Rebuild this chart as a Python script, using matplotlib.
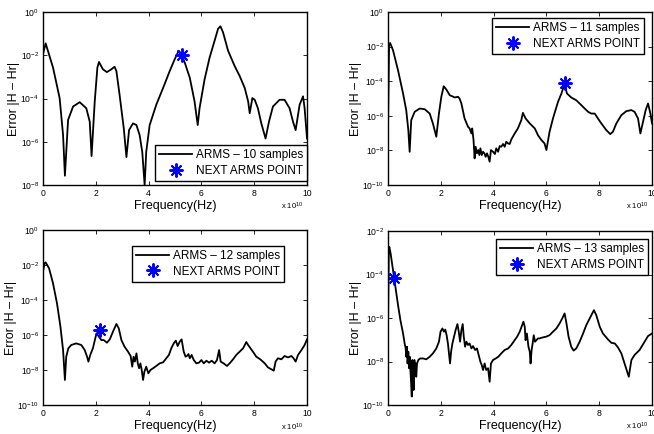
import numpy as np
import matplotlib
matplotlib.use("Agg")
import matplotlib.pyplot as plt

plt.rcParams['font.family'] = ['Liberation Sans', 'DejaVu Sans']
plt.rcParams['mathtext.fontset'] = 'custom'
plt.rcParams['mathtext.rm'] = 'Liberation Sans'
plt.rcParams['mathtext.it'] = 'Liberation Sans:italic'

# ---- data (frequency in units of 1e10 Hz, error as log10 exponent) ----
f10 = [0.00, 0.10, 0.38, 0.63, 0.76, 0.83, 0.95, 1.14, 1.39, 1.64, 1.77, 1.84, 1.96, 2.06, 2.12, 2.27,
       2.42, 2.59, 2.71, 2.78, 2.90, 3.06, 3.16, 3.26, 3.41, 3.54, 3.66, 3.76, 3.85, 3.91, 4.04, 4.29,
       4.55, 4.80, 4.99, 5.14, 5.24, 5.37, 5.56, 5.74, 5.86, 5.93, 6.12, 6.31, 6.50, 6.63, 6.72, 6.82,
       7.01, 7.26, 7.45, 7.64, 7.77, 7.83, 7.93, 8.02, 8.14, 8.27, 8.43, 8.56, 8.71, 8.96, 9.15, 9.34,
       9.47, 9.57, 9.72, 9.85, 9.91, 10.0]
e10 = [-1.95, -1.45, -2.57, -3.98, -5.69, -7.57, -4.99, -4.37, -4.17, -4.45, -5.07, -6.66, -4.13, -2.57,
       -2.31, -2.65, -2.78, -2.65, -2.53, -2.73, -3.82, -5.38, -6.71, -5.46, -5.15, -5.23, -5.69, -6.47,
       -8.00, -6.47, -5.23, -4.29, -3.51, -2.73, -2.18, -1.79, -1.95, -2.34, -3.04, -4.13, -5.23, -4.45,
       -3.12, -2.11, -1.33, -0.78, -0.66, -0.94, -1.79, -2.50, -2.96, -3.51, -4.13, -4.68, -3.98, -4.06,
       -4.45, -5.15, -5.85, -5.07, -4.37, -4.06, -4.06, -4.45, -5.07, -5.46, -4.29, -3.90, -4.45, -5.85]
star10 = (5.27, -2.0)

f11 = [0.00, 0.04, 0.08, 0.19, 0.38, 0.57, 0.69, 0.77, 0.82, 0.88, 1.01, 1.20, 1.39, 1.58, 1.70, 1.83,
       1.93, 2.02, 2.11, 2.21, 2.34, 2.53, 2.65, 2.71, 2.78, 2.90, 3.03, 3.09, 3.16, 3.19, 3.24, 3.28,
       3.32, 3.37, 3.42, 3.46, 3.50, 3.55, 3.60, 3.65, 3.70, 3.75, 3.80, 3.85, 3.90, 3.98, 4.05, 4.10,
       4.17, 4.23, 4.29, 4.36, 4.42, 4.48, 4.55, 4.61, 4.67, 4.80, 4.92, 5.05, 5.11, 5.21, 5.37, 5.56,
       5.68, 5.81, 5.93, 6.00, 6.12, 6.25, 6.44, 6.57, 6.63, 6.69, 6.78, 6.94, 7.13, 7.32, 7.45, 7.58,
       7.70, 7.83, 7.95, 8.08, 8.27, 8.42, 8.52, 8.65, 8.84, 9.03, 9.22, 9.34, 9.47, 9.56, 9.66, 9.76,
       9.85, 9.94, 10.0]
e11 = [-6.92, -1.92, -1.79, -2.21, -3.37, -4.71, -5.67, -6.83, -8.08, -6.25, -5.77, -5.58, -5.62, -5.87,
       -6.44, -7.21, -5.87, -4.90, -4.29, -4.48, -4.81, -4.94, -4.90, -5.00, -5.29, -6.15, -6.63, -6.73,
       -7.02, -6.73, -7.40, -8.46, -7.79, -8.17, -7.98, -8.27, -7.88, -8.27, -8.08, -8.17, -8.37, -8.17,
       -8.37, -8.65, -7.98, -8.08, -8.21, -7.88, -8.08, -7.75, -7.79, -7.63, -7.79, -7.50, -7.60, -7.63,
       -7.37, -7.02, -6.73, -6.25, -5.83, -6.15, -6.44, -6.73, -7.12, -7.40, -7.60, -7.98, -6.92, -6.15,
       -5.19, -4.71, -4.42, -4.23, -4.71, -4.94, -5.10, -5.38, -5.58, -5.77, -5.87, -5.87, -6.15, -6.44,
       -6.83, -7.06, -6.92, -6.44, -5.96, -5.73, -5.67, -5.77, -6.15, -7.02, -6.35, -5.67, -5.29, -5.87,
       -6.44]
star11 = (6.69, -4.1)

f12 = [0.00, 0.06, 0.10, 0.23, 0.38, 0.53, 0.66, 0.76, 0.83, 0.88, 0.96, 1.07, 1.26, 1.45, 1.58, 1.67,
       1.72, 1.79, 1.89, 1.98, 2.03, 2.12, 2.21, 2.30, 2.42, 2.53, 2.65, 2.78, 2.87, 2.97, 3.09, 3.22,
       3.32, 3.38, 3.43, 3.48, 3.54, 3.59, 3.64, 3.69, 3.74, 3.79, 3.84, 3.91, 3.99, 4.07, 4.17, 4.29,
       4.42, 4.55, 4.67, 4.77, 4.86, 4.95, 5.03, 5.10, 5.18, 5.25, 5.33, 5.40, 5.45, 5.51, 5.56, 5.63,
       5.71, 5.81, 5.91, 6.00, 6.09, 6.19, 6.29, 6.39, 6.50, 6.59, 6.67, 6.73, 6.84, 6.97, 7.07, 7.20,
       7.32, 7.45, 7.58, 7.70, 7.77, 7.86, 7.95, 8.08, 8.23, 8.40, 8.52, 8.65, 8.74, 8.81, 8.90, 9.03,
       9.15, 9.28, 9.41, 9.49, 9.57, 9.66, 9.79, 9.91, 10.0]
e12 = [-2.38, -1.90, -1.85, -2.19, -3.05, -4.19, -5.52, -6.86, -8.57, -7.24, -6.76, -6.57, -6.48, -6.57,
       -6.86, -7.24, -7.52, -7.14, -6.76, -6.19, -5.90, -6.10, -6.29, -6.29, -6.44, -6.25, -5.81, -5.37,
       -5.62, -6.29, -6.67, -6.95, -7.20, -7.81, -7.24, -7.52, -7.05, -7.62, -7.90, -7.62, -8.00, -8.57,
       -8.10, -7.81, -8.19, -8.00, -7.90, -7.77, -7.62, -7.56, -7.33, -7.14, -6.76, -6.48, -6.32, -6.63,
       -6.38, -6.25, -6.95, -7.24, -7.20, -7.09, -7.33, -7.14, -7.43, -7.62, -7.58, -7.43, -7.62, -7.47,
       -7.58, -7.47, -7.62, -7.43, -6.86, -7.52, -7.62, -7.77, -7.62, -7.39, -7.14, -6.95, -6.76, -6.40,
       -6.57, -6.76, -6.95, -7.24, -7.39, -7.62, -7.85, -7.96, -8.04, -7.52, -7.33, -7.39, -7.20, -7.28,
       -7.20, -7.33, -7.52, -7.14, -6.86, -6.57, -6.25]
star12 = (2.15, -5.71)

f13 = [0.00, 0.03, 0.05, 0.10, 0.19, 0.28, 0.38, 0.47, 0.57, 0.63, 0.67, 0.69, 0.72, 0.74, 0.77, 0.80,
       0.82, 0.85, 0.87, 0.90, 0.92, 0.95, 0.97, 1.00, 1.02, 1.05, 1.07, 1.10, 1.15, 1.22, 1.33, 1.45,
       1.58, 1.70, 1.83, 1.93, 1.99, 2.06, 2.12, 2.17, 2.22, 2.27, 2.31, 2.35, 2.39, 2.44, 2.50, 2.56,
       2.63, 2.68, 2.73, 2.78, 2.83, 2.87, 2.92, 2.97, 3.03, 3.09, 3.16, 3.22, 3.30, 3.37, 3.45, 3.50,
       3.55, 3.60, 3.66, 3.72, 3.79, 3.85, 3.90, 3.98, 4.08, 4.18, 4.29, 4.42, 4.55, 4.67, 4.80, 4.89,
       4.99, 5.06, 5.13, 5.18, 5.21, 5.26, 5.32, 5.37, 5.40, 5.44, 5.48, 5.52, 5.57, 5.62, 5.68, 5.74,
       5.87, 5.99, 6.12, 6.25, 6.38, 6.50, 6.60, 6.69, 6.76, 6.84, 6.94, 7.03, 7.13, 7.26, 7.39, 7.51,
       7.64, 7.74, 7.80, 7.89, 8.02, 8.14, 8.33, 8.46, 8.59, 8.71, 8.84, 8.96, 9.12, 9.22, 9.34, 9.53,
       9.72, 9.85, 10.0]
e13 = [-6.71, -2.89, -2.73, -3.04, -3.80, -4.57, -5.41, -6.10, -6.71, -7.17, -7.40, -7.78, -7.32, -8.09,
       -7.55, -8.31, -7.78, -8.39, -8.85, -9.61, -7.93, -8.54, -9.31, -7.93, -8.54, -8.09, -8.70, -8.09,
       -7.93, -7.86, -7.86, -7.90, -7.78, -7.63, -7.40, -7.09, -6.63, -6.48, -6.63, -6.53, -6.79, -7.17,
       -7.63, -8.09, -7.55, -7.17, -6.86, -6.56, -6.28, -6.63, -7.09, -6.56, -6.28, -6.86, -7.32, -7.09,
       -7.24, -7.17, -7.40, -7.29, -7.47, -7.40, -7.78, -8.01, -8.16, -8.39, -8.09, -8.39, -8.31, -8.93,
       -8.09, -7.93, -7.86, -7.78, -7.63, -7.47, -7.40, -7.24, -7.02, -6.86, -6.63, -6.40, -6.17, -6.40,
       -7.02, -6.71, -7.32, -7.55, -8.09, -7.47, -7.17, -6.79, -7.09, -7.02, -6.94, -6.94, -6.89, -6.86,
       -6.79, -6.63, -6.48, -6.25, -6.02, -5.79, -6.25, -6.86, -7.32, -7.50, -7.40, -7.09, -6.71, -6.33,
       -6.02, -5.79, -5.64, -5.87, -6.40, -6.71, -6.98, -7.14, -7.17, -7.35, -7.63, -8.09, -8.70, -7.93,
       -7.70, -7.47, -7.09, -6.83, -6.71]
star13 = (0.23, -4.16)

labels = ["ARMS \u2013 10 samples", "ARMS \u2013 11 samples", "ARMS \u2013 12 samples", "ARMS \u2013 13 samples"]
star_label = "NEXT ARMS POINT"
xticks = [0, 2, 4, 6, 8, 10]

panels = [
    dict(f=f10, e=e10, star=star10, lab=labels[0], ylim=(-8, 0),
         rect=[43/654, 1-185/434, 264/654, 173/434], leg=(0.424, 0.231), ylx=-0.086),
    dict(f=f11, e=e11, star=star11, lab=labels[1], ylim=(-10, 0),
         rect=[388/654, 1-185/434, 264/654, 173/434], leg=(0.394, 0.965), ylx=-0.100),
    dict(f=f12, e=e12, star=star12, lab=labels[2], ylim=(-10, 0),
         rect=[43/654, 1-405/434, 264/654, 175/434], leg=(0.337, 0.909), ylx=-0.100),
    dict(f=f13, e=e13, star=star13, lab=labels[3], ylim=(-10, -2),
         rect=[388/654, 1-405/434, 264/654, 174/434], leg=(0.409, 0.954), ylx=-0.100),
]

fig = plt.figure(figsize=(6.54, 4.34), dpi=100)
for p in panels:
    ax = fig.add_axes(p['rect'])
    ax.plot(p['f'], np.power(10.0, p['e']), color='black', lw=1.3, label=p['lab'])
    ax.plot([p['star'][0]], [10.0 ** p['star'][1]], linestyle='none', marker=(8, 2, 0),
            markersize=10, markeredgewidth=1.4, color='blue', label=star_label)
    ax.set_yscale('log')
    lo, hi = p['ylim']
    ax.set_ylim(10.0 ** lo, 10.0 ** hi)
    ax.set_xlim(0, 10)
    ax.set_xticks(xticks)
    ax.set_xticklabels([str(t) for t in xticks])
    yt = list(range(lo, hi + 1, 2))
    ax.set_yticks([10.0 ** v for v in yt])
    ax.set_yticklabels([r'$10^{%d}$' % v for v in yt])
    ax.minorticks_off()
    ax.tick_params(direction='in', length=3, width=0.6, labelsize=6.2, top=True, right=True,
                   colors='black', pad=3)
    for s in ax.spines.values():
        s.set_linewidth(1.0)
    ax.set_xlabel('Frequency(Hz)', fontsize=9, labelpad=1)
    ax.set_ylabel('Error |H \u2013 Hr|', fontsize=9)
    ax.yaxis.set_label_coords(p['ylx'], 0.5)
    ax.text(0.985, -0.125, r'x 10$^{10}$', transform=ax.transAxes, ha='right', va='center', fontsize=5.5)
    leg = ax.legend(loc='upper left', bbox_to_anchor=p['leg'], fontsize=8.5, frameon=True,
                    fancybox=False, edgecolor='black', framealpha=1, handlelength=2.8,
                    borderpad=0.35, labelspacing=0.3, handletextpad=0.3, borderaxespad=0)
    leg.get_frame().set_linewidth(1.0)

fig.savefig('out.png', dpi=100)
